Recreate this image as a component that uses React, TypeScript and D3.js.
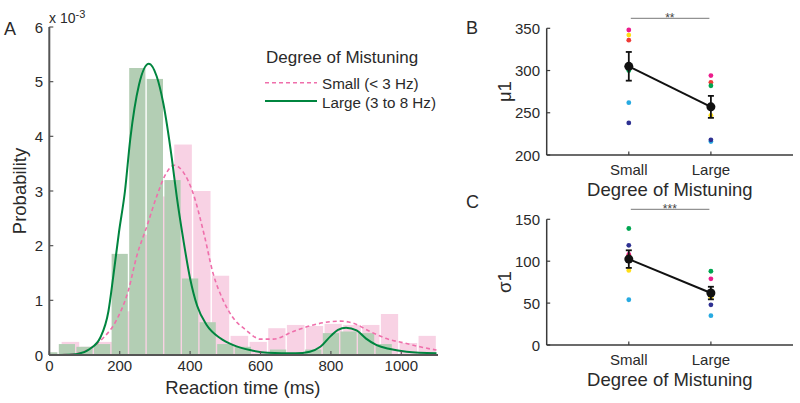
import React from "react";
import * as d3 from "d3";

// histogram bins (ms) and probabilities (x 1e-3)
const largeBinEdges = [-25, 25, 75, 125, 175, 225, 275, 325, 375, 425, 475, 525, 575, 625, 675, 725, 775, 825, 875, 925, 975, 1025, 1075];
const largeProb = [0.05, 0.2, 0.15, 0.2, 1.85, 5.25, 5.05, 3.2, 1.4, 0.6, 0.2, 0.15, 0, 0.1, 0, 0.1, 0.4, 0.43, 0.4, 0.2, 0, 0];
const smallBinEdges = [33, 87, 140, 193, 247, 300, 353, 407, 460, 513, 567, 620, 673, 727, 780, 833, 887, 940, 993, 1047, 1100];
const smallProb = [0.24, 0.15, 0.24, 0.8, 2.2, 2.9, 3.85, 3.0, 1.45, 0.35, 0.24, 0.49, 0.55, 0.53, 0.57, 0.55, 0.55, 0.75, 0.22, 0.35];

// fitted densities
const largeFitX = [0, 50, 80, 115, 145, 168, 182, 198, 215, 230, 255, 283, 305, 324, 348, 362, 381, 400, 420, 447, 485, 523, 570, 620, 700, 740, 770, 800, 820, 843, 873, 900, 930, 968, 1015, 1100];
const largeFitY = [0, 0.005, 0.02, 0.11, 0.32, 0.8, 1.45, 2.25, 3.0, 3.95, 4.95, 5.33, 5.1, 4.6, 3.6, 2.9, 2.1, 1.4, 0.9, 0.55, 0.31, 0.18, 0.09, 0.04, 0.03, 0.06, 0.15, 0.35, 0.46, 0.5, 0.45, 0.3, 0.18, 0.11, 0.06, 0.03];
const smallFitX = [0, 50, 87, 116, 153, 191, 225, 248, 277, 305, 330, 355, 380, 409, 440, 465, 494, 520, 560, 600, 636, 693, 750, 800, 827, 864, 911, 958, 1015, 1053, 1100];
const smallFitY = [0, 0.01, 0.04, 0.12, 0.31, 0.64, 1.19, 1.8, 2.35, 2.9, 3.3, 3.47, 3.35, 2.95, 2.2, 1.5, 1.0, 0.7, 0.45, 0.29, 0.29, 0.43, 0.55, 0.61, 0.62, 0.58, 0.43, 0.3, 0.21, 0.15, 0.09];

const probTicks = [0, 1, 2, 3, 4, 5, 6];
const rtTicks = [0, 200, 400, 600, 800, 1000];

// per-subject parameters: Small, Large
const categories = ["Small", "Large"];
const subjectColors = ["#ec1c8c", "#ffde17", "#ef3b36", "#27aae1", "#2e3192", "#00a651"];
const muSmall = [348, 342, 336, 262, 238, 300];
const muLarge = [294, 247, 286, 216, 218, 282];
const muMean = [305, 257];
const muSem = [17, 13];
const sigmaSmall = [108, 89, 106, 54, 119, 139];
const sigmaLarge = [79, 57, 63, 35, 48, 88];
const sigmaMean = [102.5, 62];
const sigmaSem = [10.5, 7.5];
const muTicks = [200, 250, 300, 350];
const sigmaTicks = [0, 50, 100, 150];

const FONT = "'Liberation Sans', Arial, Helvetica, sans-serif";
const TXT = "#2a2a2a";

const PanelA = () => {
  const x = d3.scaleLinear().domain([0, 1100]).range([49.3, 436.5]);
  const y = d3.scaleLinear().domain([0, 6]).range([355, 27]);
  const mk = (xs: number[], ys: number[]) =>
    d3.line<number>().x((d) => x(d)).y((d, i) => y(ys[i])).curve(d3.curveMonotoneX)(xs) || "";
  const bars = (edges: number[], vals: number[], fill: string) =>
    vals.map((v, i) => {
      if (v <= 0) return null;
      const x0 = x(Math.max(0, edges[i]));
      const x1 = x(edges[i + 1]);
      return (
        <rect key={fill + i} x={x0 + 0.7} y={y(v)} width={Math.max(0, x1 - x0 - 1.4)} height={y(0) - y(v)} fill={fill} />
      );
    });
  const axisCol = "#555";
  return (
    <g fontFamily={FONT} fill={TXT}>
      {bars(smallBinEdges, smallProb, "#f8d2e4")}
      {bars(largeBinEdges, largeProb, "#b3ceb4")}
      <path d={mk(smallFitX, smallFitY)} fill="none" stroke="#ef6fab" strokeWidth={1.6} strokeDasharray="4 3" />
      <path d={mk(largeFitX, largeFitY)} fill="none" stroke="#00853f" strokeWidth={2} />
      <line x1={x(0)} x2={x(1100) + 1.5} y1={y(0)} y2={y(0)} stroke={axisCol} strokeWidth={2} />
      <line x1={x(0)} x2={x(0)} y1={y(0)} y2={y(6)} stroke={axisCol} strokeWidth={2} />
      {rtTicks.map((t) => (
        <g key={"xt" + t}>
          <line x1={x(t)} x2={x(t)} y1={y(0)} y2={y(0) - 4} stroke={axisCol} strokeWidth={1.2} />
          <text x={x(t)} y={371} textAnchor="middle" fontSize={15}>{t}</text>
        </g>
      ))}
      {probTicks.map((t) => (
        <g key={"yt" + t}>
          <line x1={x(0)} x2={x(0) + 4} y1={y(t)} y2={y(t)} stroke={axisCol} strokeWidth={1.2} />
          <text x={43} y={y(t) + 5.5} textAnchor="end" fontSize={15}>{t}</text>
        </g>
      ))}
      <text x={49} y={22.5} fontSize={14}>x 10<tspan dy={-5} fontSize={11}>-3</tspan></text>
      <text x={4} y={35} fontSize={18}>A</text>
      <text transform={`translate(26,${(y(0) + y(6)) / 2}) rotate(-90)`} textAnchor="middle" fontSize={18.5}>Probability</text>
      <text x={(x(0) + x(1100)) / 2} y={394} textAnchor="middle" fontSize={18.5}>Reaction time (ms)</text>
      <text x={266} y={63} fontSize={17}>Degree of Mistuning</text>
      <line x1={265} x2={317} y1={82.7} y2={82.7} stroke="#ef6fab" strokeWidth={1.6} strokeDasharray="4 3" />
      <text x={322} y={89} fontSize={15.2}>Small (&lt; 3 Hz)</text>
      <line x1={265} x2={317} y1={101} y2={101} stroke="#00853f" strokeWidth={2} />
      <text x={322} y={107.5} fontSize={15.2}>Large (3 to 8 Hz)</text>
    </g>
  );
};

type PanelProps = {
  letter: string;
  letterY: number;
  top: number;
  bottom: number;
  domain: [number, number];
  ticks: number[];
  small: number[];
  large: number[];
  mean: number[];
  sem: number[];
  ylabel: string;
  stars: string;
};

const ScatterPanel = (p: PanelProps) => {
  const x = d3.scaleLinear().domain([0, 3]).range([546.7, 793]);
  const y = d3.scaleLinear().domain(p.domain).range([p.bottom, p.top]);
  const meanLine = d3.line<number>().x((d, i) => x(i + 1)).y((d) => y(d))(p.mean) || "";
  const axisCol = "#3a3a3a";
  const sigY = p.top - 10;
  return (
    <g fontFamily={FONT} fill={TXT}>
      <text x={466} y={p.letterY} fontSize={18}>{p.letter}</text>
      <line x1={x(0)} x2={x(3)} y1={y(p.domain[0])} y2={y(p.domain[0])} stroke={axisCol} strokeWidth={1.5} />
      <line x1={x(0)} x2={x(0)} y1={y(p.domain[0])} y2={y(p.domain[1])} stroke={axisCol} strokeWidth={1.5} />
      {p.ticks.map((t) => (
        <g key={t}>
          <line x1={x(0)} x2={x(0) + 3.5} y1={y(t)} y2={y(t)} stroke={axisCol} strokeWidth={1.2} />
          <text x={540} y={y(t) + 5.5} textAnchor="end" fontSize={15}>{t}</text>
        </g>
      ))}
      {categories.map((c, i) => (
        <g key={c}>
          <line x1={x(i + 1)} x2={x(i + 1)} y1={y(p.domain[0])} y2={y(p.domain[0]) - 3.5} stroke={axisCol} strokeWidth={1.2} />
          <text x={x(i + 1)} y={p.bottom + 20} textAnchor="middle" fontSize={15}>{c}</text>
        </g>
      ))}
      <text x={x(1.5)} y={p.bottom + 41} textAnchor="middle" fontSize={18.5}>Degree of Mistuning</text>
      <text transform={`translate(511,${(p.top + p.bottom) / 2}) rotate(-90)`} textAnchor="middle" fontSize={18.5}>{p.ylabel}</text>
      <line x1={x(1) + 2} x2={x(2) - 1.5} y1={sigY} y2={sigY} stroke="#777" strokeWidth={1} />
      <text x={x(1.5)} y={sigY + 3.5} textAnchor="middle" fontSize={12} fill="#444">{p.stars}</text>
      {[p.small, p.large].map((vals, ci) =>
        vals.map((v, si) => (
          <circle key={ci + "-" + si} cx={x(ci + 1)} cy={y(v)} r={2.4} fill={subjectColors[si]} />
        ))
      )}
      <path d={meanLine} fill="none" stroke="#111" strokeWidth={2} />
      {p.mean.map((m, i) => (
        <g key={"m" + i} stroke="#111" strokeWidth={1.8}>
          <line x1={x(i + 1)} x2={x(i + 1)} y1={y(m - p.sem[i])} y2={y(m + p.sem[i])} />
          <line x1={x(i + 1) - 3} x2={x(i + 1) + 3} y1={y(m + p.sem[i])} y2={y(m + p.sem[i])} />
          <line x1={x(i + 1) - 3} x2={x(i + 1) + 3} y1={y(m - p.sem[i])} y2={y(m - p.sem[i])} />
          <circle cx={x(i + 1)} cy={y(m)} r={4.5} fill="#111" stroke="none" />
        </g>
      ))}
    </g>
  );
};

export default function App() {
  return (
    <svg width={800} height={403} style={{ position: "absolute", left: 0, top: 0, background: "#fff" }}>
      <rect width={800} height={403} fill="#fff" />
      <PanelA />
      <ScatterPanel letter="B" letterY={34} top={28.3} bottom={155} domain={[200, 350]} ticks={muTicks}
        small={muSmall} large={muLarge} mean={muMean} sem={muSem} ylabel="μ1" stars="**" />
      <ScatterPanel letter="C" letterY={208} top={219.3} bottom={345} domain={[0, 150]} ticks={sigmaTicks}
        small={sigmaSmall} large={sigmaLarge} mean={sigmaMean} sem={sigmaSem} ylabel="σ1" stars="***" />
    </svg>
  );
}
